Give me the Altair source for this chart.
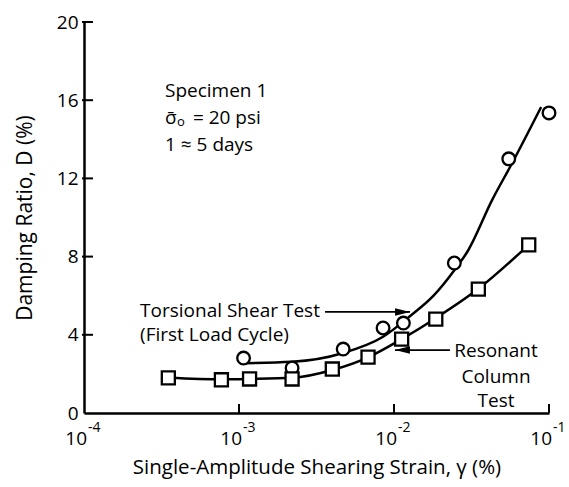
import altair as alt
import pandas as pd

FONT = "Open Sans"

# Torsional shear test, first load cycle (circles)
ts_strain = [1.07e-3, 2.2e-3, 4.7e-3, 8.5e-3, 1.15e-2, 2.45e-2, 5.5e-2, 0.100]
ts_damping = [2.81, 2.3, 3.27, 4.35, 4.6, 7.67, 13.0, 15.35]

# Resonant column test (squares)
rc_strain = [3.5e-4, 7.7e-4, 1.17e-3, 2.2e-3, 4.0e-3, 6.8e-3, 1.12e-2, 1.86e-2, 3.5e-2, 7.4e-2]
rc_damping = [1.8, 1.7, 1.74, 1.74, 2.25, 2.86, 3.78, 4.8, 6.34, 8.6]

# Hand-drawn trend curves
ts_curve_strain = [1.1e-3, 2.2e-3, 4.7e-3, 8.5e-3, 1.29e-2, 1.8e-2, 2.45e-2, 3.0e-2, 4.3e-2, 5.8e-2, 8.9e-2]
ts_curve_damping = [2.55, 2.62, 3.07, 3.9, 5.0, 6.0, 7.3, 8.3, 10.9, 12.8, 15.65]
rc_curve_strain = [3.5e-4, 7.7e-4, 1.17e-3, 2.2e-3, 4.0e-3, 6.8e-3, 1.12e-2, 1.86e-2, 3.5e-2, 7.4e-2]
rc_curve_damping = [1.8, 1.72, 1.74, 1.8, 2.2, 2.85, 3.78, 4.85, 6.35, 8.6]

# Axes
y_ticks = [0, 4, 8, 12, 16, 20]
x_ticks = [1e-4, 1e-3, 1e-2, 1e-1]
x_tick_base = ["10", "10", "10", "10"]
x_tick_exp = ["-4", "-3", "-2", "-1"]

# Annotations (main-size text)
main_text = ["Specimen 1", "σ̄", "= 20 psi", "1 ≈ 5 days",
             "Torsional Shear Test", "(First Load Cycle)"]
main_text_x = [3.33e-4, 3.33e-4, 5.04e-4, 3.33e-4, 2.3e-4, 2.3e-4]
main_text_y = [16.16, 14.8, 14.8, 13.4, 4.93, 3.70]
# subscript "o" of sigma
sub_text = ["o"]
sub_text_x = [3.98e-4]
sub_text_y = [14.7]

rc_label = ["Resonant", "Column", "Test"]
rc_label_x = [0.0455, 0.0455, 0.0455]
rc_label_y = [2.86, 1.53, 0.31]

arrow_x1 = [3.59e-3, 0.02296]
arrow_x2 = [1.27e-2, 0.01014]
arrow_y = [5.17, 3.22]
arrow_shape = ["M0,0 L-1,-0.25 L-1,0.25 Z", "M0,0 L1,-0.25 L1,0.25 Z"]

W, H = 465, 391
xs = alt.Scale(type="log", domain=[1e-4, 1e-1], nice=False)
ys = alt.Scale(domain=[0, 20], nice=False)

x_axis = alt.Axis(
    values=x_ticks, labels=False, ticks=False, grid=False,
    domainColor="black", domainWidth=2.5,
    title="Single-Amplitude Shearing Strain, γ (%)",
    titleFont=FONT, titleFontSize=20.5, titleFontWeight="normal", titleColor="black",
    titleBaseline="alphabetic", titleY=60,
)
y_axis = alt.Axis(
    values=y_ticks, ticks=False, grid=False,
    domainColor="black", domainWidth=2.5,
    labelFont=FONT, labelFontSize=19, labelColor="black", labelPadding=6,
    title="Damping Ratio, D (%)",
    titleFont=FONT, titleFontSize=21, titleFontWeight="normal", titleColor="black",
    titleBaseline="alphabetic", titleX=-53,
)


def X(field):
    return alt.X(field, scale=xs, axis=x_axis)


def Y(field):
    return alt.Y(field, scale=ys, axis=y_axis)


ts_curve_df = pd.DataFrame({"x": ts_curve_strain, "y": ts_curve_damping})
rc_curve_df = pd.DataFrame({"x": rc_curve_strain, "y": rc_curve_damping})
ts_df = pd.DataFrame({"x": ts_strain, "y": ts_damping})
rc_df = pd.DataFrame({"x": rc_strain, "y": rc_damping})

ts_line = alt.Chart(ts_curve_df).mark_line(
    color="black", strokeWidth=2.5, interpolate="monotone"
).encode(x=X("x:Q"), y=Y("y:Q"))
rc_line = alt.Chart(rc_curve_df).mark_line(
    color="black", strokeWidth=2.5, interpolate="monotone"
).encode(x=X("x:Q"), y=Y("y:Q"))

ts_pts = alt.Chart(ts_df).mark_point(
    shape="circle", size=160, filled=True, fill="white", stroke="black",
    strokeWidth=2.3, opacity=1,
).encode(x=X("x:Q"), y=Y("y:Q"))
rc_pts = alt.Chart(rc_df).mark_point(
    shape="square", size=170, filled=True, fill="white", stroke="black",
    strokeWidth=2.3, opacity=1,
).encode(x=X("x:Q"), y=Y("y:Q"))

main_df = pd.DataFrame({"x": main_text_x, "y": main_text_y, "t": main_text})
main_txt = alt.Chart(main_df).mark_text(
    font=FONT, fontSize=19, align="left", baseline="alphabetic", color="black"
).encode(x=X("x:Q"), y=Y("y:Q"), text="t:N")

sub_df = pd.DataFrame({"x": sub_text_x, "y": sub_text_y, "t": sub_text})
sub_txt = alt.Chart(sub_df).mark_text(
    font=FONT, fontSize=13, align="left", baseline="alphabetic", color="black"
).encode(x=X("x:Q"), y=Y("y:Q"), text="t:N")

rc_text_df = pd.DataFrame({"x": rc_label_x, "y": rc_label_y, "t": rc_label})
rc_text = alt.Chart(rc_text_df).mark_text(
    font=FONT, fontSize=19, align="center", baseline="alphabetic", color="black"
).encode(x=X("x:Q"), y=Y("y:Q"), text="t:N")

arrow_df = pd.DataFrame({"x1": arrow_x1, "x2": arrow_x2, "y": arrow_y, "s": arrow_shape})
arrow_lines = alt.Chart(arrow_df).mark_rule(color="black", strokeWidth=1.8).encode(
    x=X("x1:Q"), x2="x2:Q", y=Y("y:Q"),
)
arrow_heads = alt.Chart(arrow_df).mark_point(
    filled=True, color="black", size=900, opacity=1, strokeWidth=0
).encode(
    x=X("x2:Q"), y=Y("y:Q"),
    shape=alt.Shape("s:N", scale=None),
)

ytick_df = pd.DataFrame({"v": y_ticks[1:]})
y_inticks = alt.Chart(ytick_df).mark_rule(color="black", strokeWidth=2).encode(
    y=Y("v:Q"),
    x=alt.value(-2),
    x2=alt.value(9),
)
xtick_df = pd.DataFrame({"v": x_ticks[1:]})
x_inticks = alt.Chart(xtick_df).mark_rule(color="black", strokeWidth=2).encode(
    x=X("v:Q"),
    y=alt.value(H - 9),
    y2=alt.value(H),
)

xlab_df = pd.DataFrame({"v": x_ticks, "b": x_tick_base, "e": x_tick_exp})
x_base = alt.Chart(xlab_df).mark_text(
    font=FONT, fontSize=19, align="right", baseline="alphabetic", dx=3, color="black"
).encode(x=X("v:Q"), y=alt.value(H + 32), text="b:N")
x_exp = alt.Chart(xlab_df).mark_text(
    font=FONT, fontSize=14, align="left", baseline="alphabetic", dx=4, color="black"
).encode(x=X("v:Q"), y=alt.value(H + 19), text="e:N")

chart = alt.layer(
    ts_line, rc_line, ts_pts, rc_pts, main_txt, sub_txt, rc_text,
    arrow_lines, arrow_heads, y_inticks, x_inticks, x_base, x_exp,
).properties(
    width=W, height=H,
    padding={"left": 84, "top": 22, "right": 20, "bottom": 74},
    autosize=alt.AutoSizeParams(type="none"),
    background="white",
).configure_view(stroke=None)

chart.save("out.html", embed_options={"renderer": "svg", "actions": False})
